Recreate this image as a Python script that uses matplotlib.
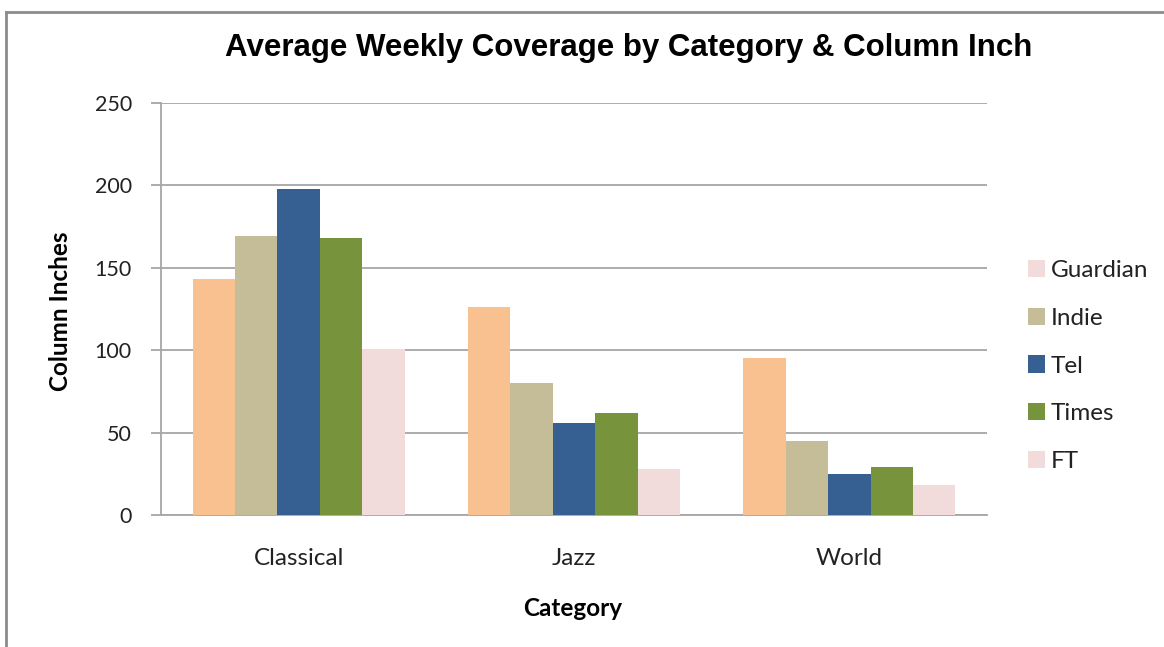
import matplotlib
matplotlib.use("Agg")
import matplotlib.pyplot as plt
import numpy as np
from matplotlib.patches import Patch
from matplotlib.lines import Line2D

categories = ["Classical", "Jazz", "World"]
series = ["Guardian", "Indie", "Tel", "Times", "FT"]
guardian = [143, 126, 95]
indie = [169, 80, 45]
tel = [198, 56, 25]
times = [168, 62, 29]
ft = [101, 28, 18]
values = [guardian, indie, tel, times, ft]
colors = ["#F9C090", "#C4BD97", "#376092", "#77933C", "#F2DCDB"]
legend_colors = ["#F2DCDB", "#C4BD97", "#376092", "#77933C", "#F2DCDB"]
yticks = [0, 50, 100, 150, 200, 250]

tick_font = "Lato"

fig = plt.figure(figsize=(11.64, 6.47), dpi=100)
ax = fig.add_axes([161/1164, 1-515/647, (987-161)/1164, (515-103)/647])

w = 1/6.5
x = np.arange(len(categories))
for i, (vals, c) in enumerate(zip(values, colors)):
    ax.bar(x + (i - 2) * w, vals, width=w, color=c, edgecolor="none", zorder=3)

ax.set_xlim(-0.5, 2.5)
ax.set_ylim(0, 250)
ax.set_yticks(yticks)
ax.set_xticks(x)
ax.set_xticklabels(categories, fontfamily=tick_font, fontsize=17.5, color="#222222")
ax.set_yticklabels([str(t) for t in yticks], fontfamily=tick_font, fontsize=15.5, color="#222222")
ax.tick_params(axis="x", length=0, pad=24)
ax.tick_params(axis="y", length=7, width=1.3, color="#A6A6A6", pad=14)
ax.grid(axis="y", color="#A6A6A6", linewidth=1.3, zorder=0)
for s in ["top", "right"]:
    ax.spines[s].set_visible(False)
for s in ["left", "bottom"]:
    ax.spines[s].set_color("#A6A6A6")
    ax.spines[s].set_linewidth(1.3)

fig.text(629/1164, 1-48/647, "Average Weekly Coverage by Category & Column Inch",
         ha="center", va="center", fontfamily="Liberation Sans", fontweight="bold",
         fontsize=22.5, color="black")
fig.text(573/1164, 1-609/647, "Category", ha="center", va="center",
         fontfamily=tick_font, fontweight="bold", fontsize=17.5)
fig.text(61/1164, 1-311/647, "Column Inches", ha="center", va="center", rotation=90,
         fontfamily=tick_font, fontweight="bold", fontsize=17.5)

handles = [Patch(facecolor=c, edgecolor="none") for c in legend_colors]
leg = fig.legend(handles, series, loc="center left", bbox_to_anchor=(1006/1164, 1-366/647),
                 frameon=False, prop={"family": tick_font, "size": 17.5},
                 handlelength=0.7, handleheight=0.7, handletextpad=0.25, labelspacing=1.1)
for t in leg.get_texts():
    t.set_color("#222222")

# outer border
fig.add_artist(Line2D([6/1164, 6/1164], [0, 1-12/647], transform=fig.transFigure, color="#8C8C8C", linewidth=2))
fig.add_artist(Line2D([6/1164, 1], [1-12/647, 1-12/647], transform=fig.transFigure, color="#8C8C8C", linewidth=2))

fig.savefig("out.png", dpi=100)
